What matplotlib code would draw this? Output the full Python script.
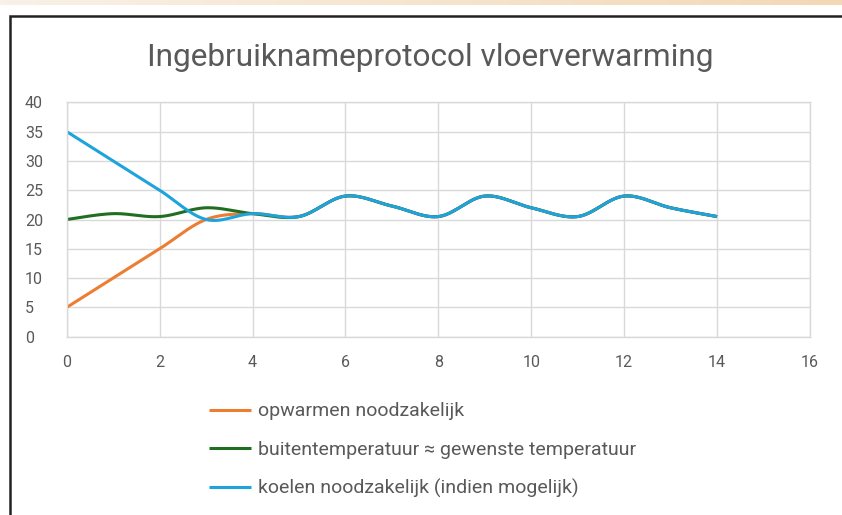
import numpy as np
import matplotlib
matplotlib.use("Agg")
import matplotlib.pyplot as plt
from matplotlib.patches import Rectangle

plt.rcParams['font.family'] = ['Roboto', 'DejaVu Sans']

title = "Ingebruiknameprotocol vloerverwarming"
days = [0, 1, 2, 3, 4, 5, 6, 7, 8, 9, 10, 11, 12, 13, 14]
opwarmen = [5, 10, 15, 20, 21, 20.5, 24, 22.3, 20.5, 24, 22, 20.5, 24, 22, 20.5]
buiten = [20, 21, 20.5, 22, 21, 20.5, 24, 22.3, 20.5, 24, 22, 20.5, 24, 22, 20.5]
koelen = [35, 30, 25, 20, 21, 20.5, 24, 22.3, 20.5, 24, 22, 20.5, 24, 22, 20.5]
labels = ["opwarmen noodzakelijk",
          "buitentemperatuur \u2248 gewenste temperatuur",
          "koelen noodzakelijk (indien mogelijk)"]
colors = ["#ED7D31", "#1F6E22", "#1EA3DC"]


def smooth(x, y, n=30):
    # Excel-like smoothed line (Catmull-Rom as cubic Bezier)
    x = np.asarray(x, float)
    y = np.asarray(y, float)
    px = np.concatenate([[x[0]], x, [x[-1]]])
    py = np.concatenate([[y[0]], y, [y[-1]]])
    t = np.linspace(0, 1, n)[:, None]
    xs, ys = [], []
    for i in range(1, len(px) - 2):
        p0 = np.array([px[i], py[i]])
        p3 = np.array([px[i + 1], py[i + 1]])
        c1 = p0 + (np.array([px[i + 1], py[i + 1]]) - np.array([px[i - 1], py[i - 1]])) / 6
        c2 = p3 - (np.array([px[i + 2], py[i + 2]]) - np.array([px[i], py[i]])) / 6
        pts = ((1 - t) ** 3) * p0 + 3 * ((1 - t) ** 2) * t * c1 + 3 * (1 - t) * t ** 2 * c2 + t ** 3 * p3
        xs.append(pts[:, 0])
        ys.append(pts[:, 1])
    return np.concatenate(xs), np.concatenate(ys)


fig = plt.figure(figsize=(8.42, 5.15), dpi=100)

# chart border
fig.patches.append(Rectangle((10 / 842, -0.05), 1.1, 1 - 16 / 515 + 0.05, transform=fig.transFigure,
                             facecolor="white", edgecolor="#222222", linewidth=1.8, zorder=-5))

# beige strip on top
strip = fig.add_axes([0, 1 - 5 / 515, 1, 5 / 515])
grad = np.linspace(0, 1, 256)[None, :]
cmap = matplotlib.colors.LinearSegmentedColormap.from_list("b", ["#F9F1E7", "#F3D8B6"])
strip.imshow(grad, aspect="auto", cmap=cmap)
strip.set_axis_off()

ax = fig.add_axes([66.7 / 842, 1 - 336.7 / 515, (810 - 66.7) / 842, (336.7 - 102.3) / 515])
for d, lab, c in zip([opwarmen, buiten, koelen], labels, colors):
    sx, sy = smooth(days, d)
    ax.plot(sx, sy, color=c, linewidth=2.2, label=lab, solid_capstyle="butt")

ax.set_xlim(0, 16)
ax.set_ylim(0, 40)
ax.set_xticks(range(0, 17, 2))
ax.set_yticks(range(0, 41, 5))
ax.grid(True, color="#D9D9D9", linewidth=1.0)
ax.set_axisbelow(True)
for s in ax.spines.values():
    s.set_color("#D9D9D9")
    s.set_linewidth(1.0)
ax.tick_params(length=0, colors="#595959", labelsize=11.5)
ax.tick_params(axis="x", pad=13)
ax.tick_params(axis="y", pad=30)
for lbl in ax.get_yticklabels():
    lbl.set_horizontalalignment("left")

fig.text(0.511, 1 - 57 / 515, title, ha="center", va="center", fontsize=22.8, color="#595959")

handles, labs = ax.get_legend_handles_labels()
fig.legend(handles, labs, loc="upper left", bbox_to_anchor=(191 / 842, 1 - 385 / 515), frameon=False,
           fontsize=14, labelcolor="#595959", handlelength=2.2, handletextpad=0.36, labelspacing=1.03)

fig.savefig("out.png", dpi=100)
